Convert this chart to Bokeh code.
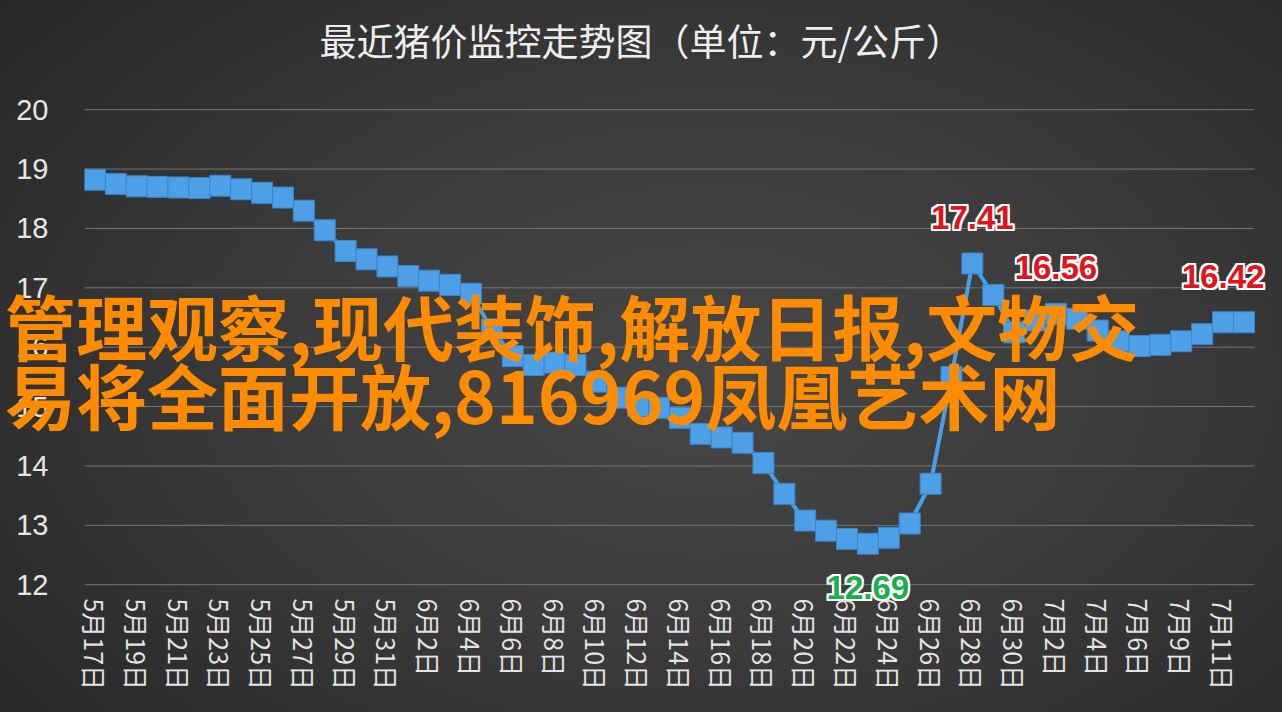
from bokeh.plotting import figure
from bokeh.models import FixedTicker, ColumnDataSource
from bokeh.core.properties import value
from bokeh.embed import file_html
from bokeh.resources import INLINE

# ---------------- data ----------------
dates = (
    [f"5月{d}日" for d in range(17, 32)]
    + [f"6月{d}日" for d in range(1, 31)]
    + ["7月1日", "7月2日", "7月3日", "7月4日", "7月5日", "7月6日",
       "7月8日", "7月9日", "7月10日", "7月11日", "7月12日"]
)
prices = [
    18.82, 18.75, 18.71, 18.70, 18.69, 18.68, 18.72, 18.66, 18.60, 18.52,
    18.30, 17.97, 17.62, 17.48, 17.36, 17.20, 17.12, 17.05, 16.90, 16.30,
    15.85, 15.70, 15.74, 15.70, 15.42, 15.15, 15.01, 14.98, 14.81, 14.54,
    14.48, 14.39, 14.05, 13.53, 13.08, 12.91, 12.77, 12.69, 12.79, 13.03,
    13.70, 15.50, 17.41, 16.88, 16.25, 16.45, 16.56, 16.48, 16.28, 16.10,
    16.02, 16.04, 16.10, 16.22, 16.42, 16.42,
]
high_idx = [42, 46, 54]
low_idx = [37]
y_ticks = [12, 13, 14, 15, 16, 17, 18, 19, 20]
title_text = "最近猪价监控走势图（单位：元/公斤）"
watermark_lines = ["管理观察,现代装饰,解放日报,文物交", "易将全面开放,816969凤凰艺术网"]

# ---------------- layout ----------------
n = len(dates)
W, H = 1282, 712
UX = 1170 / n          # px per category
UY = 59.375            # px per yuan
TOP_PX = 109           # page y of the top gridline
x0, x1 = -0.5, n + 0.75
y0, y1 = min(y_ticks) - 0.3, max(y_ticks) + 0.66
FL = 84
FW = round(UX * (x1 - x0))
FH = round(UY * (y1 - y0))
FT = round(TOP_PX - UY * (y1 - max(y_ticks)))

p = figure(width=W, height=H, output_backend="svg", toolbar_location=None,
           x_range=(x0, x1), y_range=(y0, y1),
           min_border_left=FL, min_border_right=W - FL - FW,
           min_border_top=FT, min_border_bottom=H - FT - FH)
p.background_fill_alpha = 0
p.border_fill_alpha = 0
p.outline_line_color = None

# title
p.title.text = title_text
p.title.align = "left"
p.title.offset = 235
p.title.standoff = 8
p.title.text_font = "Noto Sans CJK SC"
p.title.text_font_size = "37px"
p.title.text_font_style = "normal"
p.title.text_color = "#eeeeee"

# axes
p.yaxis.ticker = FixedTicker(ticks=y_ticks)
p.yaxis.axis_line_color = None
p.yaxis.major_tick_line_color = None
p.yaxis.minor_tick_line_color = None
p.yaxis.major_label_standoff = 30
p.yaxis.major_label_text_font = "Liberation Sans"
p.yaxis.major_label_text_font_size = "29px"
p.yaxis.major_label_text_color = "#e6e6e6"

p.xaxis.ticker = FixedTicker(ticks=list(range(0, n, 2)))
p.xaxis.major_label_overrides = {i: d for i, d in enumerate(dates)}
p.xaxis.major_label_orientation = "vertical"
p.xaxis.axis_line_color = None
p.xaxis.major_tick_line_color = None
p.xaxis.minor_tick_line_color = None
p.xaxis.major_label_standoff = -10
p.xaxis.major_label_text_font = "Noto Sans CJK SC"
p.xaxis.major_label_text_font_size = "25px"
p.xaxis.major_label_text_color = "#e4e4e4"

p.xgrid.grid_line_color = None
p.ygrid.grid_line_color = None

# horizontal gridlines spanning the category area only
p.segment(x0=[-0.5] * len(y_ticks), x1=[n - 0.5] * len(y_ticks),
          y0=y_ticks, y1=y_ticks, line_color="#767676", line_width=1)

# series
src = ColumnDataSource(dict(i=list(range(n)), price=prices))
p.line("i", "price", source=src, line_color="#4a9fe4", line_width=4)
p.scatter("i", "price", source=src, marker="square", size=21,
          fill_color="#4d9fe6", line_color="#3a86cc", line_width=1)

# value labels with white halo
def value_labels(idx, color, dy):
    s = ColumnDataSource(dict(x=idx, y=[prices[i] for i in idx],
                              t=[f"{prices[i]:.2f}" for i in idx]))
    for ox, oy in [(-2, -2), (0, -2), (2, -2), (-2, 0), (2, 0), (-2, 2), (0, 2), (2, 2)]:
        p.text("x", "y", text="t", source=s, x_offset=ox, y_offset=dy + oy,
               text_font=value("Liberation Sans"), text_font_style="bold",
               text_font_size="33px", text_color="white",
               text_align="center", text_baseline="middle")
    p.text("x", "y", text="t", source=s, x_offset=0, y_offset=dy,
           text_font=value("Liberation Sans"), text_font_style="bold",
           text_font_size="33px", text_color=color,
           text_align="center", text_baseline="middle")

value_labels(high_idx, "#e0141b", -46)
value_labels(low_idx, "#1aae4c", 44)

html = file_html(p, INLINE, title="最近猪价监控走势图")
css = ("<style>html{height:100%;background:radial-gradient(ellipse 75% 85% at 55% 52%,"
       "#474747 0%,#3b3b3b 45%,#252525 100%);}"
       "body{margin:0;background:transparent;overflow:hidden;}"
       ".wm{position:absolute;left:5px;top:290px;z-index:10;pointer-events:none;"
       "font-family:'Noto Sans CJK SC';font-weight:700;font-size:71px;line-height:69px;"
       "color:#ff8c00;white-space:nowrap;}</style>")
html = html.replace("</head>", css + "</head>", 1)
wm = '<div class="wm">' + "<br>".join(watermark_lines) + "</div>"
html = html.replace("</body>", wm + "</body>", 1)
open("out.html", "w").write(html)
